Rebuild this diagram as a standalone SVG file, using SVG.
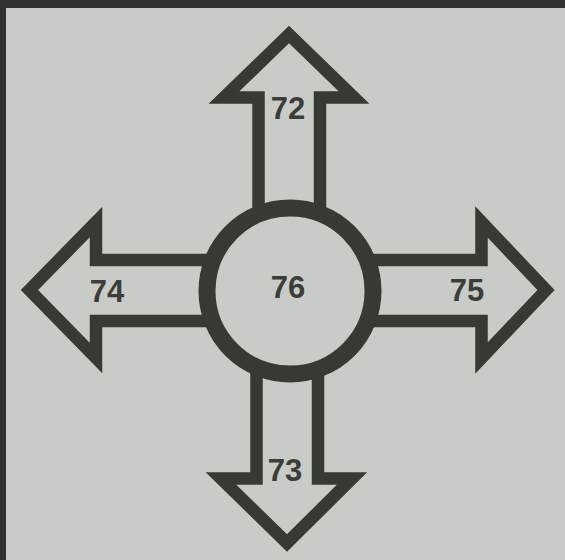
<svg xmlns="http://www.w3.org/2000/svg" width="565" height="560" viewBox="0 0 565 560">
<style>
.arrow{fill:#c9cbc7;stroke:#373a33;stroke-width:12.5;stroke-linejoin:miter;stroke-miterlimit:6}
.hub{fill:#c9cbc7;stroke:#373a33;stroke-width:17}
.lbl{font-family:"Liberation Sans",Arial,sans-serif;font-weight:bold;font-size:31px;fill:#3b3d39;text-anchor:middle}
</style>
<rect x="0" y="0" width="565" height="560" fill="#c9cbc7"/>
<rect x="0" y="0" width="565" height="8" fill="#30322d"/>
<rect x="0" y="0" width="6" height="560" fill="#30322d"/>
<g id="connectors">
<polygon id="arrow-72" class="arrow" points="258.5,240 258.5,97.5 224,97.5 289,34.5 354,97.5 320,97.5 320,240"/>
<polygon id="arrow-73" class="arrow" points="256.5,340 256.5,478.5 221,478.5 287,543 352,478.5 318,478.5 318,340"/>
<polygon id="arrow-74" class="arrow" points="240,260 96,260 96,222 29.5,290 96,358 96,321 240,321"/>
<polygon id="arrow-75" class="arrow" points="340,260 481.5,260 481.5,222 546,290 481.5,358 481.5,321 340,321"/>
</g>
<g id="node-76">
<circle class="hub" cx="290" cy="291" r="83"/>
<text class="lbl" x="288" y="298">76</text>
</g>
<g id="node-72"><text class="lbl" x="288" y="119">72</text></g>
<g id="node-73"><text class="lbl" x="285" y="481">73</text></g>
<g id="node-74"><text class="lbl" x="107" y="302">74</text></g>
<g id="node-75"><text class="lbl" x="467" y="301">75</text></g>
</svg>
